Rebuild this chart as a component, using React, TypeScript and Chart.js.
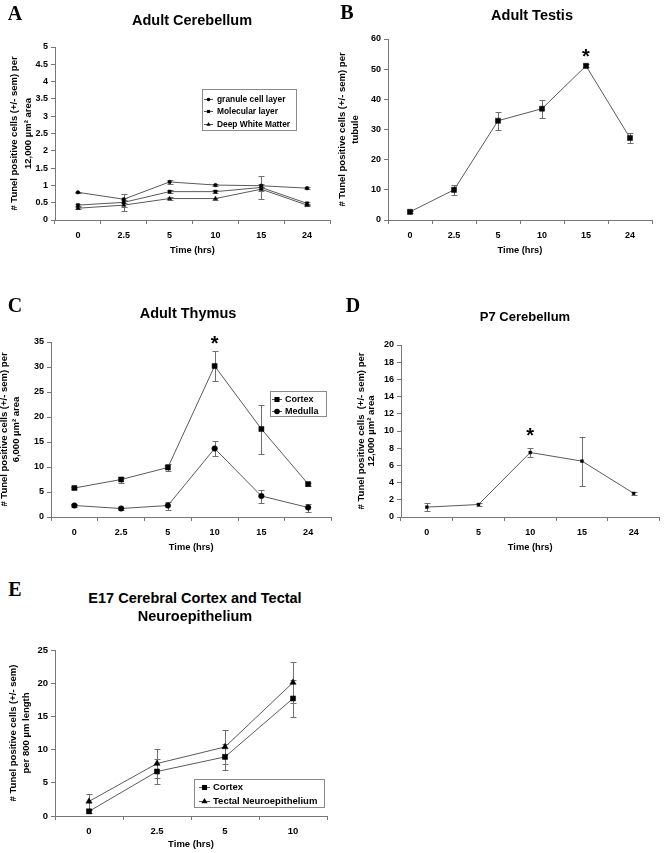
import React, { useEffect, useRef } from 'react';
import { Chart, registerables } from 'chart.js';

Chart.register(...registerables);

const FONT = '"Liberation Sans", Arial, Helvetica, sans-serif';
const SERIF = '"Liberation Serif", "Times New Roman", serif';

// ---------- Data ----------
// Panel A: Adult Cerebellum
const timesA = ['0', '2.5', '5', '10', '15', '24'];
const granule = [0.8, 0.6, 1.1, 1.01, 0.99, 0.92];
const granuleErr = [0.02, 0.03, 0.05, 0.04, 0.05, 0.02];
const molecular = [0.43, 0.51, 0.82, 0.82, 0.94, 0.48];
const molecularErr = [0.03, 0.24, 0.04, 0.05, 0.32, 0.04];
const whiteMatter = [0.34, 0.43, 0.62, 0.62, 0.89, 0.43];
const whiteMatterErr = [0.03, 0.05, 0.04, 0.03, 0.05, 0.03];
const ticksA = { min: 0, max: 5, step: 0.5 };

// Panel B: Adult Testis
const timesB = ['0', '2.5', '5', '10', '15', '24'];
const testis = [2.7, 10.0, 32.9, 36.9, 51.1, 27.2];
const testisErr = [0.3, 1.6, 3.0, 3.0, 0.5, 1.6];
const ticksB = { min: 0, max: 60, step: 10 };
const starB = { index: 4, value: 56 };

// Panel C: Adult Thymus
const timesC = ['0', '2.5', '5', '10', '15', '24'];
const cortexC = [5.8, 7.5, 9.9, 30.2, 17.6, 6.6];
const cortexCErr = [0.2, 0.6, 0.7, 3.0, 4.9, 0.3];
const medullaC = [2.3, 1.7, 2.3, 13.7, 4.2, 1.9];
const medullaCErr = [0.3, 0.2, 0.8, 1.5, 1.3, 0.8];
const ticksC = { min: 0, max: 35, step: 5 };
const starC = { index: 3, value: 35.8 };

// Panel D: P7 Cerebellum
const timesD = ['0', '5', '10', '15', '24'];
const p7 = [1.15, 1.45, 7.5, 6.5, 2.75];
const p7Err = [0.45, 0.15, 0.5, 2.85, 0.2];
const ticksD = { min: 0, max: 20, step: 2 };
const starD = { index: 2, value: 10.1 };

// Panel E: E17 Cerebral Cortex and Tectal Neuroepithelium
const timesE = ['0', '2.5', '5', '10'];
const cortexE = [0.7, 6.7, 8.9, 17.7];
const cortexEErr = [0.2, 1.9, 1.95, 2.75];
const tectal = [2.2, 7.9, 10.4, 20.1];
const tectalErr = [1.1, 2.15, 2.55, 3.15];
const ticksE = { min: 0, max: 25, step: 5 };

// ---------- Helpers ----------
type Style = 'circle' | 'rect' | 'triangle';
type Series = { label: string; data: number[]; err: number[]; style: Style; radius: number };
type Legend = { x: number; y: number; w: number; h: number; rowY: number; rowH: number; lx0: number; lx1: number; tx: number; font: number };
type Spec = {
  x: number; y: number; w: number; h: number;
  pad: { left: number; top: number; right: number; bottom: number };
  yW: number; xH: number;
  labels: string[];
  series: Series[];
  ticks: { min: number; max: number; step: number };
  yTitle: string[];
  yTitlePad: number;
  yTitleLH: number;
  tickFont: number;
  xTitleFont: number;
  legend?: Legend;
  star?: { index: number; value: number };
};

function drawMarker(ctx: CanvasRenderingContext2D, style: Style, x: number, y: number, r: number) {
  ctx.beginPath();
  if (style === 'circle') {
    ctx.arc(x, y, r, 0, Math.PI * 2);
  } else if (style === 'rect') {
    const s = Math.SQRT1_2 * r;
    ctx.rect(x - s, y - s, 2 * s, 2 * s);
  } else {
    ctx.moveTo(x, y - r);
    ctx.lineTo(x + r * 0.866, y + r * 0.5);
    ctx.lineTo(x - r * 0.866, y + r * 0.5);
    ctx.closePath();
  }
  ctx.fill();
}

function makePlugins(spec: Spec) {
  return [
    {
      id: 'errorBars',
      beforeDatasetsDraw(chart: any) {
        const ctx = chart.ctx as CanvasRenderingContext2D;
        const xs = chart.scales.x;
        const ys = chart.scales.y;
        ctx.save();
        ctx.strokeStyle = '#6f6f6f';
        ctx.lineWidth = 1;
        spec.series.forEach((s) => {
          s.data.forEach((v, j) => {
            const e = s.err[j];
            if (!e) return;
            const px = Math.round(xs.getPixelForValue(j)) + 0.5;
            const t = Math.round(ys.getPixelForValue(v + e)) + 0.5;
            const b = Math.round(ys.getPixelForValue(v - e)) + 0.5;
            ctx.beginPath();
            ctx.moveTo(px, t);
            ctx.lineTo(px, b);
            ctx.moveTo(px - 3, t);
            ctx.lineTo(px + 3, t);
            ctx.moveTo(px - 3, b);
            ctx.lineTo(px + 3, b);
            ctx.stroke();
          });
        });
        ctx.restore();
      },
    },
    {
      id: 'extras',
      afterDraw(chart: any) {
        const ctx = chart.ctx as CanvasRenderingContext2D;
        if (spec.star) {
          const px = chart.scales.x.getPixelForValue(spec.star.index);
          const py = chart.scales.y.getPixelForValue(spec.star.value);
          ctx.save();
          ctx.fillStyle = '#000';
          ctx.font = `bold 20px ${FONT}`;
          ctx.textAlign = 'center';
          ctx.textBaseline = 'alphabetic';
          ctx.fillText('*', px, py + 11.5);
          ctx.restore();
        }
        const L = spec.legend;
        if (L) {
          ctx.save();
          ctx.fillStyle = '#fff';
          ctx.fillRect(L.x, L.y, L.w, L.h);
          ctx.strokeStyle = '#8a8a8a';
          ctx.lineWidth = 1;
          ctx.strokeRect(L.x + 0.5, L.y + 0.5, L.w, L.h);
          spec.series.forEach((s, i) => {
            const yy = Math.round(L.rowY + i * L.rowH) + 0.5;
            ctx.strokeStyle = '#555';
            ctx.beginPath();
            ctx.moveTo(L.lx0, yy);
            ctx.lineTo(L.lx1, yy);
            ctx.stroke();
            ctx.fillStyle = '#000';
            drawMarker(ctx, s.style, (L.lx0 + L.lx1) / 2, yy, s.radius);
            ctx.font = `bold ${L.font}px ${FONT}`;
            ctx.textAlign = 'left';
            ctx.textBaseline = 'middle';
            ctx.fillText(s.label, L.tx, yy);
          });
          ctx.restore();
        }
      },
    },
  ];
}

function buildConfig(spec: Spec): any {
  const datasets = spec.series.map((s) => ({
    label: s.label,
    data: s.data,
    borderColor: '#5a5a5a',
    borderWidth: 1,
    backgroundColor: '#000',
    pointStyle: s.style,
    pointRadius: s.radius,
    pointBackgroundColor: '#000',
    pointBorderColor: '#000',
    pointBorderWidth: 0.5,
    tension: 0,
    fill: false,
  }));
  return {
    type: 'line',
    data: { labels: spec.labels, datasets },
    options: {
      animation: false,
      responsive: false,
      maintainAspectRatio: false,
      events: [],
      layout: { padding: spec.pad },
      plugins: {
        legend: { display: false },
        tooltip: { enabled: false },
        title: { display: false },
      },
      scales: {
        x: {
          type: 'category',
          offset: true,
          grid: { offset: true, drawOnChartArea: false, drawTicks: true, tickLength: 4, color: '#777' },
          border: { display: true, color: '#777', width: 1 },
          ticks: {
            color: '#000',
            font: { family: FONT, size: spec.tickFont, weight: 'bold' },
            padding: 6,
            maxRotation: 0,
            autoSkip: false,
          },
          title: {
            display: true,
            text: 'Time (hrs)',
            color: '#000',
            font: { family: FONT, size: spec.xTitleFont, weight: 'bold', lineHeight: 1.2 },
            padding: { top: 0, bottom: 1.5 },
          },
          afterFit: (sc: any) => {
            sc.height = spec.xH;
          },
        },
        y: {
          type: 'linear',
          min: spec.ticks.min,
          max: spec.ticks.max,
          grid: { drawOnChartArea: false, drawTicks: true, tickLength: 4, color: '#777' },
          border: { display: true, color: '#777', width: 1 },
          ticks: {
            stepSize: spec.ticks.step,
            color: '#000',
            font: { family: FONT, size: spec.tickFont, weight: 'bold' },
            padding: 3,
            callback: (v: any) => String(+Number(v).toFixed(2)),
          },
          title: {
            display: true,
            text: spec.yTitle,
            color: '#000',
            font: { family: FONT, size: 9.5, weight: 'bold', lineHeight: spec.yTitleLH },
            padding: { top: spec.yTitlePad, bottom: 0 },
          },
          afterFit: (sc: any) => {
            sc.width = spec.yW;
          },
        },
      },
    },
    plugins: makePlugins(spec),
  };
}

function Panel({ spec }: { spec: Spec }) {
  const ref = useRef<HTMLCanvasElement | null>(null);
  useEffect(() => {
    if (!ref.current) return;
    const chart = new Chart(ref.current, buildConfig(spec));
    return () => chart.destroy();
  }, [spec]);
  return (
    <canvas
      ref={ref}
      width={spec.w}
      height={spec.h}
      style={{ position: 'absolute', left: spec.x, top: spec.y, width: spec.w, height: spec.h }}
    />
  );
}

const Y_PER = '# Tunel positive cells (+/- sem) per';

const specA: Spec = {
  x: 0, y: 0, w: 336, h: 262,
  pad: { left: 0, top: 47, right: 6, bottom: 4 },
  yW: 55, xH: 38,
  labels: timesA,
  series: [
    { label: 'granule cell layer', data: granule, err: granuleErr, style: 'circle', radius: 1.8 },
    { label: 'Molecular layer', data: molecular, err: molecularErr, style: 'rect', radius: 2.2 },
    { label: 'Deep White Matter', data: whiteMatter, err: whiteMatterErr, style: 'triangle', radius: 2.4 },
  ],
  ticks: ticksA,
  yTitle: [Y_PER, '12,000 µm² area'],
  yTitlePad: 7.5,
  yTitleLH: 1.45,
  tickFont: 9,
  xTitleFont: 9.3,
  legend: { x: 202, y: 89, w: 94, h: 41, rowY: 98.5, rowH: 12.8, lx0: 204, lx1: 213, tx: 217, font: 8.4 },
};

const specB: Spec = {
  x: 332, y: 0, w: 332, h: 262,
  pad: { left: 0, top: 39, right: 12, bottom: 4 },
  yW: 56, xH: 38,
  labels: timesB,
  series: [{ label: 'Testis', data: testis, err: testisErr, style: 'rect', radius: 3.6 }],
  ticks: ticksB,
  yTitle: [Y_PER, 'tubule'],
  yTitlePad: 4.5,
  yTitleLH: 1.3,
  tickFont: 9,
  xTitleFont: 9.3,
  star: starB,
};

const specC: Spec = {
  x: 0, y: 270, w: 336, h: 289,
  pad: { left: 0, top: 72, right: 4, bottom: 4 },
  yW: 51, xH: 38,
  labels: timesC,
  series: [
    { label: 'Cortex', data: cortexC, err: cortexCErr, style: 'rect', radius: 3.6 },
    { label: 'Medulla', data: medullaC, err: medullaCErr, style: 'circle', radius: 2.8 },
  ],
  ticks: ticksC,
  yTitle: [Y_PER, '6,000 µm² area'],
  yTitlePad: -1,
  yTitleLH: 1.2,
  tickFont: 9,
  xTitleFont: 9.3,
  legend: { x: 270, y: 121, w: 56, h: 25, rowY: 128.5, rowH: 12.5, lx0: 272, lx1: 282, tx: 285, font: 9 },
  star: starC,
};

const specD: Spec = {
  x: 336, y: 270, w: 328, h: 289,
  pad: { left: 0, top: 75, right: 1, bottom: 4 },
  yW: 65, xH: 38,
  labels: timesD,
  series: [{ label: 'P7', data: p7, err: p7Err, style: 'rect', radius: 2 }],
  ticks: ticksD,
  yTitle: ['# Tunel positive cells  (+/- sem) per', '12,000 µm² area'],
  yTitlePad: 20,
  yTitleLH: 1.1,
  tickFont: 9,
  xTitleFont: 9.3,
  star: starD,
};

const specE: Spec = {
  x: 0, y: 620, w: 336, h: 233,
  pad: { left: 0, top: 30, right: 9, bottom: 1 },
  yW: 55, xH: 36,
  labels: timesE,
  series: [
    { label: 'Cortex', data: cortexE, err: cortexEErr, style: 'rect', radius: 3.6 },
    { label: 'Tectal Neuroepithelium', data: tectal, err: tectalErr, style: 'triangle', radius: 3.6 },
  ],
  ticks: ticksE,
  yTitle: ['# Tunel positive cells (+/- sem)', 'per 800 µm length'],
  yTitlePad: 6,
  yTitleLH: 1.45,
  tickFont: 9.5,
  xTitleFont: 9.5,
  legend: { x: 194, y: 159, w: 130, h: 28, rowY: 167, rowH: 14, lx0: 199, lx1: 210, tx: 213, font: 9.5 },
};

const SPECS = [specA, specB, specC, specD, specE];

type Label = { text: string; cx: number; cy: number; size: number; serif?: boolean };
const LABELS: Label[] = [
  { text: 'A', cx: 15, cy: 13, size: 20, serif: true },
  { text: 'B', cx: 347, cy: 12, size: 20, serif: true },
  { text: 'C', cx: 15, cy: 305, size: 20, serif: true },
  { text: 'D', cx: 353, cy: 305, size: 20, serif: true },
  { text: 'E', cx: 15, cy: 589, size: 20, serif: true },
  { text: 'Adult Cerebellum', cx: 192, cy: 20, size: 14.5 },
  { text: 'Adult Testis', cx: 532, cy: 15, size: 14.5 },
  { text: 'Adult Thymus', cx: 188, cy: 313, size: 14.5 },
  { text: 'P7 Cerebellum', cx: 525, cy: 316, size: 13 },
  { text: 'E17 Cerebral Cortex and Tectal', cx: 195, cy: 598, size: 14.5 },
  { text: 'Neuroepithelium', cx: 195, cy: 616, size: 14.5 },
];

export default function App() {
  return (
    <div
      style={{
        position: 'absolute',
        left: 0,
        top: 0,
        width: 664,
        height: 853,
        overflow: 'hidden',
        background: '#fff',
      }}
    >
      {SPECS.map((s, i) => (
        <Panel key={i} spec={s} />
      ))}
      {LABELS.map((l, i) => (
        <div
          key={'l' + i}
          style={{
            position: 'absolute',
            left: l.cx,
            top: l.cy,
            transform: 'translate(-50%, -50%)',
            whiteSpace: 'nowrap',
            fontFamily: l.serif ? SERIF : FONT,
            fontWeight: 'bold',
            fontSize: l.size,
            lineHeight: 1,
            color: '#000',
          }}
        >
          {l.text}
        </div>
      ))}
    </div>
  );
}
